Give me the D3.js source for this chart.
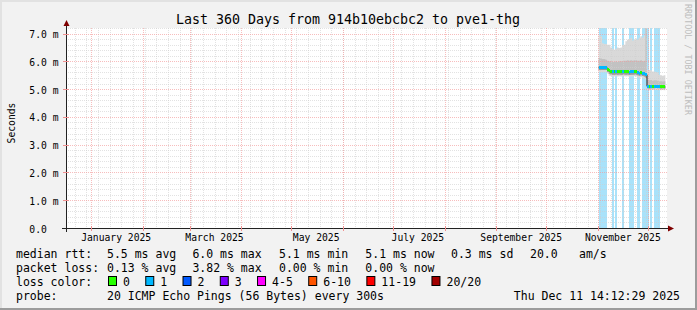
<!DOCTYPE html>
<html><head><meta charset="utf-8">
<script src="https://cdn.jsdelivr.net/npm/d3@7/dist/d3.min.js"></script>
<style>
html,body{margin:0;padding:0;background:#f2f2f2;}
svg{display:block;}
text{font-family:"DejaVu Sans Mono",monospace;white-space:pre;}
</style></head><body>
<svg id="c" width="697" height="310"></svg>
<script>
// ---------- data ----------
const title = "Last 360 Days from 914b10ebcbc2 to pve1-thg";
const rangeStart = "2024-12-16T14:12:29Z";
const rangeEnd = "2025-12-11T14:12:29Z";
const yTicks = [0, 1, 2, 3, 4, 5, 6, 7];
const yTickLabels = ["0.0", "1.0 m", "2.0 m", "3.0 m", "4.0 m", "5.0 m", "6.0 m", "7.0 m"];
const monthLabels = ["January 2025", "March 2025", "May 2025", "July 2025", "September 2025", "November 2025"];
const monthLabelDates = ["2025-01-16", "2025-03-16", "2025-05-16", "2025-07-16", "2025-09-16", "2025-11-16"];

// daily buckets (noon to noon), Nov 1 .. Dec 10 2025
const days = ["11-01","11-02","11-03","11-04","11-05","11-06","11-07","11-08","11-09","11-10",
              "11-11","11-12","11-13","11-14","11-15","11-16","11-17","11-18","11-19","11-20",
              "11-21","11-22","11-23","11-24","11-25","11-26","11-27","11-28","11-29","11-30",
              "12-01","12-02","12-03","12-04","12-05","12-06","12-07","12-08","12-09","12-10"];
// median rtt (ms)
const median = [5.78,5.78,5.78,5.78,5.78,5.72,5.66,5.63,5.62,5.62,
                5.63,5.62,5.63,5.62,5.62,5.63,5.62,5.63,5.61,5.62,
                5.62,5.63,5.62,5.60,5.58,5.60,5.57,5.55,5.52,5.10,
                5.08,5.10,5.09,5.10,5.11,5.10,5.09,5.08,5.09,5.08];
// packet loss (pings lost out of 20)
const loss = [1,1,1,1,1,0,0,0,1,0,
              1,0,0,0,1,0,0,0,1,1,
              1,0,0,1,1,0,1,1,1,1,
              0,1,0,1,1,1,1,0,0,0];
// smoke: highest ping, upper ping band, lower ping band, lowest ping (ms)
const smokeMax = [6.95,6.90,6.65,6.62,6.62,6.60,6.60,6.50,6.45,6.42,
                  6.45,6.50,6.48,6.50,6.58,6.60,6.72,6.78,6.80,6.85,
                  6.75,6.78,6.82,6.78,6.85,6.90,6.85,6.92,7.50,5.70,
                  5.69,5.68,5.63,5.63,5.62,5.60,5.52,5.50,5.48,5.50];
const smokeHi = [6.12,6.10,6.08,6.08,6.06,6.02,6.00,6.00,5.98,5.98,
                 6.00,5.98,6.00,6.00,6.00,6.02,6.02,6.04,6.02,6.04,
                 6.02,6.04,6.04,6.02,6.02,6.04,6.00,6.02,7.50,5.32,
                 5.32,5.33,5.30,5.32,5.32,5.30,5.28,5.28,5.27,5.28];
const smokeLo = [5.69,5.69,5.69,5.69,5.69,5.62,5.55,5.53,5.52,5.52,
                 5.53,5.52,5.53,5.52,5.52,5.53,5.52,5.53,5.51,5.52,
                 5.52,5.53,5.52,5.50,5.48,5.50,5.47,5.45,5.42,5.03,
                 5.02,5.03,5.03,5.03,5.04,5.03,5.03,5.02,5.03,5.02];
const smokeMin = [5.62,5.62,5.62,5.62,5.62,5.56,5.48,5.46,5.45,5.45,
                  5.46,5.45,5.46,5.45,5.45,5.46,5.45,5.46,5.44,5.45,
                  5.45,5.46,5.45,5.43,5.41,5.43,5.40,5.38,5.35,4.97,
                  4.96,4.97,4.97,4.97,4.98,4.97,4.97,4.96,4.97,4.96];

const statRows = [
  ["median rtt:", "5.5 ms avg", "6.0 ms max", "5.1 ms min", "5.1 ms now", "0.3 ms sd", "20.0", "am/s"],
  ["packet loss:", "0.13 % avg", "3.82 % max", "0.00 % min", "0.00 % now"]
];
const lossLegendLabels = ["0", "1", "2", "3", "4-5", "6-10", "11-19", "20/20"];
const lossLegendColors = ["#26ff00", "#00b8ff", "#0059ff", "#7e00ff", "#ff00ff", "#ff5500", "#ff0000", "#a10000"];
const probeText = "20 ICMP Echo Pings (56 Bytes) every 300s";
const stampText = "Thu Dec 11 14:12:29 2025";
const watermark = "RRDTOOL / TOBI OETIKER";

// ---------- layout ----------
const W = 697, H = 310;
const statCols = [16, 107, 192.4, 279, 365.3, 451, 530, 579];
const rowBase = [258, 272, 286, 300];
const charW = 6.96;

const svg = d3.select("#c");
const x = d3.scaleUtc().domain([new Date(rangeStart), new Date(rangeEnd)]).range([65.5, 665.5]);
const y = d3.scaleLinear().domain([0, 7.2]).range([228, 28]);
const X0 = 66, X1 = 667, YT = 28, YB = 228;

svg.append("rect").attr("width", W).attr("height", H).attr("fill", "#f2f2f2");
// frame
svg.append("rect").attr("x", 0).attr("y", 0).attr("width", W).attr("height", 2).attr("fill", "#e2e2e2");
svg.append("rect").attr("x", 0).attr("y", 0).attr("width", 2).attr("height", H).attr("fill", "#e2e2e2");
svg.append("rect").attr("x", 0).attr("y", H - 2).attr("width", W).attr("height", 2).attr("fill", "#9c9c9c");
svg.append("rect").attr("x", W - 2).attr("y", 0).attr("width", 2).attr("height", H).attr("fill", "#9c9c9c");

// canvas
svg.append("rect").attr("x", X0).attr("y", YT).attr("width", X1 - X0).attr("height", YB - YT).attr("fill", "#ffffff");
svg.append("clipPath").attr("id", "cp").append("rect")
  .attr("x", X0).attr("y", YT).attr("width", X1 - X0).attr("height", YB - YT);

const t0 = days.map(d => new Date("2025-" + d + "T12:00:00Z"));
const t1 = t0.map(d => d3.utcDay.offset(d, 1));
const pts = days.map((d, i) => ({t: t0[i], i}));
pts.push({t: t1[t1.length - 1], i: days.length - 1});

const g = svg.append("g").attr("clip-path", "url(#cp)");

// loss background
g.selectAll("rect.lossbg").data(days.map((d, i) => i).filter(i => loss[i] > 0)).join("rect")
  .attr("x", i => x(t0[i])).attr("width", i => x(t1[i]) - x(t0[i]))
  .attr("y", YT).attr("height", YB - YT)
  .attr("fill", "#a9e2fa").attr("shape-rendering", "crispEdges");

// smoke
const band = (lo, hi) => d3.area().curve(d3.curveStepAfter)
  .x(p => x(p.t)).y0(p => y(lo[p.i])).y1(p => y(hi[p.i]));
g.append("path").attr("d", band(smokeMin, smokeMax)(pts)).attr("fill", "#d9d9d9");
g.append("path").attr("d", band(smokeLo, smokeHi)(pts)).attr("fill", "#c2c2c2");
g.append("path").attr("d", band(smokeLo, median)(pts)).attr("fill", "#9a9a9a");

// grid
const gridG = svg.append("g");
const minorY = d3.range(0, 7.21, 0.2).filter(v => Math.abs(v - Math.round(v)) > 0.01);
gridG.selectAll("line.my").data(minorY).join("line")
  .attr("x1", X0).attr("x2", X1).attr("y1", v => Math.round(y(v)) + 0.5).attr("y2", v => Math.round(y(v)) + 0.5)
  .attr("stroke", "#cfcfcf").attr("stroke-opacity", 0.6).attr("stroke-dasharray", "1,1");
const weeks = d3.utcSunday.range(new Date(rangeStart), new Date(rangeEnd));
gridG.selectAll("line.mx").data(weeks).join("line")
  .attr("y1", YT).attr("y2", YB).attr("x1", d => Math.round(x(d)) + 0.5).attr("x2", d => Math.round(x(d)) + 0.5)
  .attr("stroke", "#cfcfcf").attr("stroke-opacity", 0.6).attr("stroke-dasharray", "1,1");
gridG.selectAll("line.My").data(yTicks.filter(v => v > 0)).join("line")
  .attr("x1", X0).attr("x2", X1).attr("y1", v => Math.round(y(v)) + 0.5).attr("y2", v => Math.round(y(v)) + 0.5)
  .attr("stroke", "#f29a9a").attr("stroke-opacity", 0.65).attr("stroke-dasharray", "1,1");
const months = d3.utcMonth.range(new Date(rangeStart), new Date(rangeEnd));
gridG.selectAll("line.Mx").data(months).join("line")
  .attr("y1", YT).attr("y2", YB).attr("x1", d => Math.round(x(d)) + 0.5).attr("x2", d => Math.round(x(d)) + 0.5)
  .attr("stroke", "#f29a9a").attr("stroke-opacity", 0.65).attr("stroke-dasharray", "1,1");

// median line
const g2 = svg.append("g").attr("clip-path", "url(#cp)");
g2.append("path").attr("d", d3.line().curve(d3.curveStepAfter).x(p => x(p.t)).y(p => y(median[p.i]))(pts))
  .attr("fill", "none").attr("stroke", "#202020").attr("stroke-width", 1);
g2.selectAll("rect.med").data(days.map((d, i) => i)).join("rect")
  .attr("x", i => x(t0[i])).attr("width", i => x(t1[i]) - x(t0[i]))
  .attr("y", i => y(median[i]) - 1.5).attr("height", 3)
  .attr("fill", i => lossLegendColors[loss[i]]).attr("shape-rendering", "crispEdges");

// axes
const ax = svg.append("g");
ax.append("line").attr("x1", 62).attr("x2", 669).attr("y1", 228.5).attr("y2", 228.5).attr("stroke", "#222");
ax.append("line").attr("x1", 66.5).attr("x2", 66.5).attr("y1", 232).attr("y2", 25).attr("stroke", "#222");
ax.append("path").attr("d", "M668,225.5L674,228.5L668,231.5Z").attr("fill", "#7f0000");
ax.append("path").attr("d", "M63.5,26L66.5,20L69.5,26Z").attr("fill", "#7f0000");
ax.selectAll("line.tx").data(months).join("line")
  .attr("x1", d => Math.round(x(d)) + 0.5).attr("x2", d => Math.round(x(d)) + 0.5)
  .attr("y1", 226).attr("y2", 231).attr("stroke", "#f09090");
ax.selectAll("line.ty").data(yTicks).join("line")
  .attr("x1", 63).attr("x2", 69).attr("y1", v => Math.round(y(v)) + 0.5).attr("y2", v => Math.round(y(v)) + 0.5)
  .attr("stroke", v => v === 0 ? "#222" : "#f09090");

// y labels
svg.selectAll("text.yl").data(yTicks).join("text")
  .attr("x", 29.3).attr("y", v => y(v) + 4.5)
  .attr("font-size", "9.7px").attr("fill", "#000")
  .text((v, i) => yTickLabels[i]);
// x labels
svg.selectAll("text.xl").data(monthLabels).join("text")
  .attr("x", (d, i) => x(new Date(monthLabelDates[i] + "T00:00:00Z"))).attr("y", 240.7)
  .attr("text-anchor", "middle").attr("font-size", "9.7px").attr("fill", "#000")
  .text(d => d);

// title
svg.append("text").attr("x", 348).attr("y", 24).attr("text-anchor", "middle")
  .attr("font-size", "13.3px").attr("fill", "#000").text(title);
// y title
svg.append("text").attr("transform", "translate(14.5,123) rotate(-90)").attr("text-anchor", "middle")
  .attr("font-size", "9.7px").attr("fill", "#000").text("Seconds");
// watermark
svg.append("text").attr("transform", "translate(685,4) rotate(90)").attr("text-anchor", "start")
  .attr("font-size", "8.4px").attr("fill", "#bdbdbd").text(watermark);

// legend
const lg = svg.append("g").attr("font-size", "11.5px").attr("fill", "#000");
statRows.forEach((row, r) => {
  row.forEach((s, c) => {
    lg.append("text").attr("x", statCols[c]).attr("y", rowBase[r]).text(s);
  });
});
lg.append("text").attr("x", 16).attr("y", rowBase[2]).text("loss color:");
let bx = 108;
lossLegendLabels.forEach((l, i) => {
  lg.append("rect").attr("x", bx + 0.5).attr("y", rowBase[2] - 9.5).attr("width", 8).attr("height", 9)
    .attr("fill", lossLegendColors[i]).attr("stroke", "#000").attr("stroke-width", 1);
  lg.append("text").attr("x", bx + 15).attr("y", rowBase[2]).text(l);
  bx = bx + 15 + l.length * charW + 15.3;
});
lg.append("text").attr("x", 16).attr("y", rowBase[3]).text("probe:");
lg.append("text").attr("x", 107).attr("y", rowBase[3]).text(probeText);
lg.append("text").attr("x", 680).attr("y", rowBase[3]).attr("text-anchor", "end").text(stampText);
</script>
</body></html>
